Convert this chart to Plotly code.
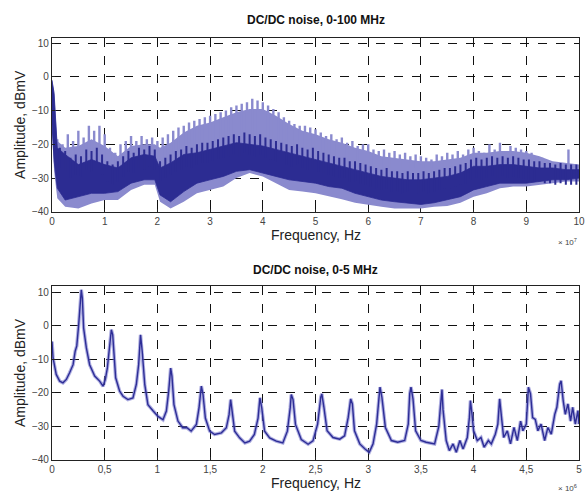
import plotly.graph_objects as go

# ---------------- Top panel data (frequency in units of 1e7 Hz) ----------------
env_x = [0, 0.04, 0.1, 0.25, 0.5, 0.75, 1.0, 1.25, 1.5, 1.75, 1.95, 2.05, 2.25, 2.5, 2.75,
         3.0, 3.25, 3.5, 3.75, 4.0, 4.25, 4.5, 4.75, 5.0, 5.25, 5.5, 5.75, 6.0, 6.25, 6.5,
         6.75, 7.0, 7.25, 7.5, 7.75, 8.0, 8.25, 8.5, 8.75, 9.0, 9.25, 9.5, 9.75, 10.0]
light_fill_top = [-1, -4, -19, -21, -20.5, -18.5, -20.5, -23.5, -20.5, -20, -20, -21, -19.5, -16.5, -14.5,
                  -13.5, -12, -10.5, -9.5, -9.5, -11.5, -14, -16, -17, -18.5, -19.5, -21, -22, -23.5, -24,
                  -24.5, -25, -25, -24.5, -24, -22.5, -22.5, -22, -22, -22.5, -23.5, -25, -25.5, -26]
light_lo = [-16, -28, -36, -38.5, -39, -37.5, -36.5, -36.5, -33.5, -32, -32, -37, -39, -37, -34.5,
            -33.5, -32.5, -30, -28.5, -29.5, -31.5, -33.5, -34, -34.5, -35.5, -36.3, -37.3, -38, -38.5, -39,
            -39, -39, -38.5, -38.3, -37.3, -35.5, -34.5, -33, -32.5, -32.5, -32, -31.5, -31, -31]
dark_hi = [-1, -5, -21, -23, -26, -24.5, -26, -27, -24, -23, -23.5, -27, -25.5, -23, -22.5,
           -21.5, -20.5, -19.5, -20, -20.5, -21.5, -22.5, -23.5, -24.5, -25.5, -26.5, -27.5, -28.5, -29.5, -30,
           -30.5, -30.5, -30, -29.5, -28.5, -26.5, -26.5, -26, -26, -26.5, -27, -27, -27.5, -27.5]
dark_lo = [-14, -25, -33, -36.5, -35.5, -34.5, -34.5, -34, -31.5, -30.5, -30.5, -35, -37, -34, -31.5,
           -30.5, -29.5, -28, -27.5, -28.5, -29.5, -30.5, -31, -31.5, -32.5, -33, -34.5, -35.5, -36.5, -37,
           -37.5, -37.8, -37.3, -36.5, -35.5, -33.5, -32.5, -31.5, -31.5, -31.5, -31, -30.5, -30.5, -30]

# light harmonic spikes (tops)
spike_x = [0.1, 0.2, 0.3, 0.4, 0.5, 0.6, 0.7, 0.8, 0.9, 1.0,
           1.1, 1.2, 1.3, 1.4, 1.5, 1.6, 1.7, 1.8, 1.9, 2.0,
           2.1, 2.2, 2.3, 2.4, 2.5, 2.6, 2.7, 2.8, 2.9, 3.0,
           3.1, 3.2, 3.3, 3.4, 3.5, 3.6, 3.7, 3.8, 3.9, 4.0,
           4.1, 4.2, 4.3, 4.4, 4.5, 4.6, 4.7, 4.8, 4.9, 5.0,
           5.1, 5.2, 5.3, 5.4, 5.5, 5.6, 5.7, 5.8, 5.9, 6.0,
           6.1, 6.2, 6.3, 6.4, 6.5, 6.6, 6.7, 6.8, 6.9, 7.0,
           7.1, 7.2, 7.3, 7.4, 7.5, 7.6, 7.7, 7.8, 7.9, 8.0,
           8.1, 8.2, 8.3, 8.4, 8.5, 8.6, 8.7, 8.8, 8.9, 9.0,
           9.1, 9.2, 9.3, 9.4, 9.5, 9.6, 9.7, 9.8, 9.9]
spike_top = [-18.5, -20, -17, -19, -16, -18, -14.5, -16, -14.5, -17,
             -21, -22.5, -20, -19, -17.5, -19, -17.5, -18.5, -18, -19,
             -18, -17, -16, -15, -14.5, -13.5, -13, -12.5, -12, -11.5,
             -11, -10.5, -10, -9, -8.5, -8, -7.5, -6.5, -7, -7.5,
             -8.5, -9.5, -10.5, -12, -13, -14, -14.5, -14.5, -15, -15.5,
             -16.5, -17.5, -17, -18.5, -18, -19.5, -19, -20.5, -20, -20,
             -21.5, -22, -21.5, -22.5, -22, -23, -22.5, -23.5, -23, -23.5,
             -24, -24.5, -23, -23.5, -22.5, -23, -22, -23, -21.5, -21,
             -22, -22.5, -20, -21.5, -19.5, -22, -20.5, -21, -21.5, -22,
             -22.5, -23.5, -24, -25, -25.5, -26, -25.5, -21.5, -26]

# dark (dense) band jagged tops
dspike_x = [0.05, 0.15, 0.25, 0.35, 0.45, 0.55, 0.65, 0.75, 0.85, 0.95,
            1.05, 1.15, 1.25, 1.35, 1.45, 1.55, 1.65, 1.75, 1.85, 1.95,
            2.05, 2.15, 2.25, 2.35, 2.45, 2.55, 2.65, 2.75, 2.85, 2.95,
            3.05, 3.15, 3.25, 3.35, 3.45, 3.55, 3.65, 3.75, 3.85, 3.95,
            4.05, 4.15, 4.25, 4.35, 4.45, 4.55, 4.65, 4.75, 4.85, 4.95,
            5.05, 5.15, 5.25, 5.35, 5.45, 5.55, 5.65, 5.75, 5.85, 5.95,
            6.05, 6.15, 6.25, 6.35, 6.45, 6.55, 6.65, 6.75, 6.85, 6.95,
            7.05, 7.15, 7.25, 7.35, 7.45, 7.55, 7.65, 7.75, 7.85, 7.95,
            8.05, 8.15, 8.25, 8.35, 8.45, 8.55, 8.65, 8.75, 8.85, 8.95,
            9.05, 9.15, 9.25, 9.35, 9.45, 9.55, 9.65, 9.75, 9.85, 9.95]
dspike_top = [-16, -21, -22, -24, -23, -23.5, -21.5, -22, -21, -23,
              -25, -26, -25, -23.5, -22, -22.5, -21, -21.5, -20.5, -21.5,
              -25, -24, -23, -22, -21.5, -20.5, -21, -20, -19.5, -19.5,
              -19, -18.5, -18, -17.5, -17, -17.5, -16.5, -17, -17.5, -17,
              -18, -18.5, -19, -19.5, -20, -20.5, -20, -21, -21.5, -21,
              -22, -22.5, -23, -23.5, -24, -24, -25, -25, -25.5, -26,
              -26.5, -27, -27.5, -27, -28, -28, -28.5, -28, -28.5, -28.5,
              -28, -28.5, -28, -27.5, -27, -27, -26.5, -26, -25.5, -24.5,
              -24, -24.5, -24, -23.5, -24, -23.5, -24, -23.5, -24, -24.5,
              -24.5, -25, -25, -25.5, -25.5, -26, -25.5, -26, -26, -26]

# ---------------- Bottom panel data (frequency in units of 1e6 Hz) ----------------
f2 = [0, 0.01, 0.04, 0.073, 0.104, 0.136, 0.167, 0.2, 0.22, 0.235, 0.253, 0.27, 0.278, 0.288, 0.30,
      0.326, 0.357, 0.405, 0.452, 0.484, 0.506, 0.525, 0.547, 0.563, 0.576, 0.588, 0.604, 0.642, 0.674,
      0.72, 0.768, 0.80, 0.822, 0.84, 0.856, 0.88, 0.91, 0.96, 1.006, 1.053, 1.085, 1.107, 1.126, 1.138,
      1.157, 1.195, 1.24, 1.28, 1.32, 1.37, 1.395, 1.417, 1.433, 1.455, 1.496, 1.543, 1.607, 1.654,
      1.68, 1.695, 1.71, 1.733, 1.78, 1.83, 1.875, 1.92, 1.955, 1.973, 1.99, 2.017, 2.065, 2.128, 2.19,
      2.233, 2.26, 2.27, 2.287, 2.31, 2.365, 2.43, 2.476, 2.52, 2.55, 2.56, 2.58, 2.61, 2.666, 2.73,
      2.776, 2.81, 2.834, 2.85, 2.87, 2.92, 2.97, 3.01, 3.046, 3.08, 3.10, 3.112, 3.13, 3.163, 3.22,
      3.28, 3.346, 3.38, 3.394, 3.406, 3.425, 3.45, 3.50, 3.55, 3.63, 3.67, 3.685, 3.70, 3.71, 3.74,
      3.77, 3.805, 3.836, 3.87, 3.90, 3.94, 3.96, 3.97, 3.985, 4.0, 4.035, 4.07, 4.10, 4.14, 4.168,
      4.206, 4.23, 4.247, 4.262, 4.285, 4.32, 4.35, 4.383, 4.415, 4.446, 4.468, 4.50, 4.52, 4.54,
      4.56, 4.585, 4.61, 4.64, 4.674, 4.705, 4.737, 4.77, 4.79, 4.817, 4.83, 4.85, 4.87, 4.895, 4.92,
      4.94, 4.965, 4.99, 5.0]
a2 = [-4.7, -9.6, -14.5, -16.5, -17, -16, -14, -11.6, -7.6, -6, 0.3, 6.2, 10.7, 8.2, -0.7,
      -6.6, -11.6, -15, -16.5, -18, -16, -12.6, -4.7, -1.2, -2.7, -9.6, -15.5, -19.5, -21,
      -22, -21.5, -17.5, -11.6, -2.7, -7.6, -17.5, -23.5, -25.4, -27, -28, -25.4, -19.5, -12.6, -15,
      -23.5, -28.4, -30.4, -30.4, -31.4, -29.4, -24.5, -18, -20.5, -27.5, -31.4, -32.4, -31.9, -30.4,
      -26.5, -22, -25.4, -31.4, -33.4, -34.9, -34.4, -32.4, -27.5, -21.5, -24.5, -31.4, -33.4, -34.4, -34.9,
      -31.4, -24.5, -20.5, -22, -29.4, -33.9, -35.3, -34.3, -29.3, -21.3, -20.3, -24.3, -31.3, -33.3, -33.8,
      -32.8, -27.4, -21.8, -23.3, -31.3, -35.2, -36.7, -37.7, -35.2, -29.3, -22.3, -18.3, -21.3, -30.3, -34.2,
      -34.7, -34.2, -29.3, -20.3, -18.3, -21.8, -31.3, -34.2, -34.7, -35.2, -30, -24.3, -19, -25, -34.2,
      -37.2, -35.2, -37.7, -34.2, -36.7, -33.3, -27.4, -22.3, -26.4, -31.3, -34.2, -33.3, -36.2, -34.2, -35.2,
      -32.3, -29.3, -21.8, -26.4, -33.3, -31.3, -35.2, -30.3, -34.2, -28.4, -31.3, -29.3, -18.3, -20.3,
      -27.4, -27.9, -31.3, -29.3, -34.2, -30.3, -32.3, -26.4, -24.3, -17.4, -16.4, -22.3, -26.4, -23.3, -28.4,
      -24.3, -29.3, -25.3, -29.3]

# tick labels
top_ticks = [0, 1, 2, 3, 4, 5, 6, 7, 8, 9, 10]
bot_tickvals = [0, 0.5, 1, 1.5, 2, 2.5, 3, 3.5, 4, 4.5, 5]
bot_ticktext = ["0", "0,5", "1", "1,5", "2", "2,5", "3", "3,5", "4", "4,5", "5"]
y_ticks = [-40, -30, -20, -10, 0, 10]

LIGHT = "rgb(138,138,206)"
DARK = "rgb(44,44,146)"
SPIKE_BASE = -27
DSPIKE_LEN = 6

fig = go.Figure()

# light band
fig.add_trace(go.Scatter(x=env_x + env_x[::-1], y=light_fill_top + light_lo[::-1],
                         fill="toself", fillcolor=LIGHT, line=dict(width=0),
                         mode="lines", hoverinfo="skip", xaxis="x", yaxis="y"))
# light spikes
sx, sy = [], []
for x, t in zip(spike_x, spike_top):
    sx += [x, x, None]
    sy += [t, SPIKE_BASE, None]
fig.add_trace(go.Scatter(x=sx, y=sy, mode="lines", line=dict(color=LIGHT, width=2.4),
                         hoverinfo="skip", xaxis="x", yaxis="y"))
# dark band
fig.add_trace(go.Scatter(x=env_x + env_x[::-1], y=dark_hi + dark_lo[::-1],
                         fill="toself", fillcolor=DARK, line=dict(width=0.8, color=DARK),
                         mode="lines", hoverinfo="skip", xaxis="x", yaxis="y"))
# dark jagged tops
dx, dy = [], []
for x, t in zip(dspike_x, dspike_top):
    dx += [x, x, None]
    dy += [t, t - DSPIKE_LEN, None]
fig.add_trace(go.Scatter(x=dx, y=dy, mode="lines", line=dict(color=DARK, width=2),
                         hoverinfo="skip", xaxis="x", yaxis="y"))

# bottom trace (halo + line)
fig.add_trace(go.Scatter(x=f2, y=a2, mode="lines", line=dict(color="rgba(110,110,200,0.55)", width=3.5),
                         hoverinfo="skip", xaxis="x2", yaxis="y2"))
fig.add_trace(go.Scatter(x=f2, y=a2, mode="lines", line=dict(color="rgb(45,45,150)", width=1.4),
                         hoverinfo="skip", xaxis="x2", yaxis="y2"))

FONT = "Arial, Liberation Sans, sans-serif"
axis_common = dict(showline=True, linecolor="#222", linewidth=1.2, mirror=True,
                   ticks="inside", ticklen=3, tickcolor="#222", automargin=False,
                   showgrid=True, gridcolor="#111", griddash="dash", gridwidth=1,
                   zeroline=False, tickfont=dict(size=10, color="#444", family=FONT))

fig.update_layout(
    width=585, height=493,
    margin=dict(l=52, r=6, t=38, b=33),
    paper_bgcolor="white", plot_bgcolor="white",
    showlegend=False,
    font=dict(family=FONT, color="#222"),
    xaxis=dict(domain=[0, 1], anchor="y", range=[0, 10], tickvals=top_ticks, **axis_common),
    yaxis=dict(domain=[0.588, 1.0], anchor="x", range=[-40, 11.5], tickvals=y_ticks, **axis_common),
    xaxis2=dict(domain=[0, 1], anchor="y2", range=[0, 5], tickvals=bot_tickvals, ticktext=bot_ticktext,
                **axis_common),
    yaxis2=dict(domain=[0, 0.412], anchor="x2", range=[-40, 11.8], tickvals=y_ticks, **axis_common),
    annotations=[
        dict(text="<b>DC/DC noise, 0-100 MHz</b>", xref="paper", yref="paper", x=0.5, y=1.0,
             yshift=18, showarrow=False, font=dict(size=12, color="#111"), yanchor="middle"),
        dict(text="<b>DC/DC noise, 0-5 MHz</b>", xref="paper", yref="paper", x=0.5, y=0.412,
             yshift=16, showarrow=False, font=dict(size=12, color="#111"), yanchor="middle"),
        # axis titles
        dict(text="Frequency, Hz", xref="paper", yref="paper", x=0.5, y=0.588, yshift=-23,
             yanchor="middle", showarrow=False, font=dict(size=14, color="#222")),
        dict(text="Frequency, Hz", xref="paper", yref="paper", x=0.5, y=0.0, yshift=-23,
             yanchor="middle", showarrow=False, font=dict(size=14, color="#222")),
        dict(text="Amplitude, dBmV", xref="paper", yref="paper", x=0, y=0.794, xshift=-32,
             textangle=-90, xanchor="center", yanchor="middle", showarrow=False,
             font=dict(size=14, color="#222")),
        dict(text="Amplitude, dBmV", xref="paper", yref="paper", x=0, y=0.206, xshift=-32,
             textangle=-90, xanchor="center", yanchor="middle", showarrow=False,
             font=dict(size=14, color="#222")),
        # exponent labels
        dict(text="× 10<sup>7</sup>", xref="paper", yref="paper", x=1.0, y=0.588, xanchor="right",
             yanchor="middle", yshift=-30, showarrow=False, font=dict(size=8, color="#444")),
        dict(text="× 10<sup>6</sup>", xref="paper", yref="paper", x=1.0, y=0.0, xanchor="right",
             yanchor="middle", yshift=-28, showarrow=False, font=dict(size=8, color="#444")),
    ],
)

fig.write_html("out.html", config={"displayModeBar": False},
               post_script="document.body.style.margin='0';document.body.style.overflow='hidden';")
